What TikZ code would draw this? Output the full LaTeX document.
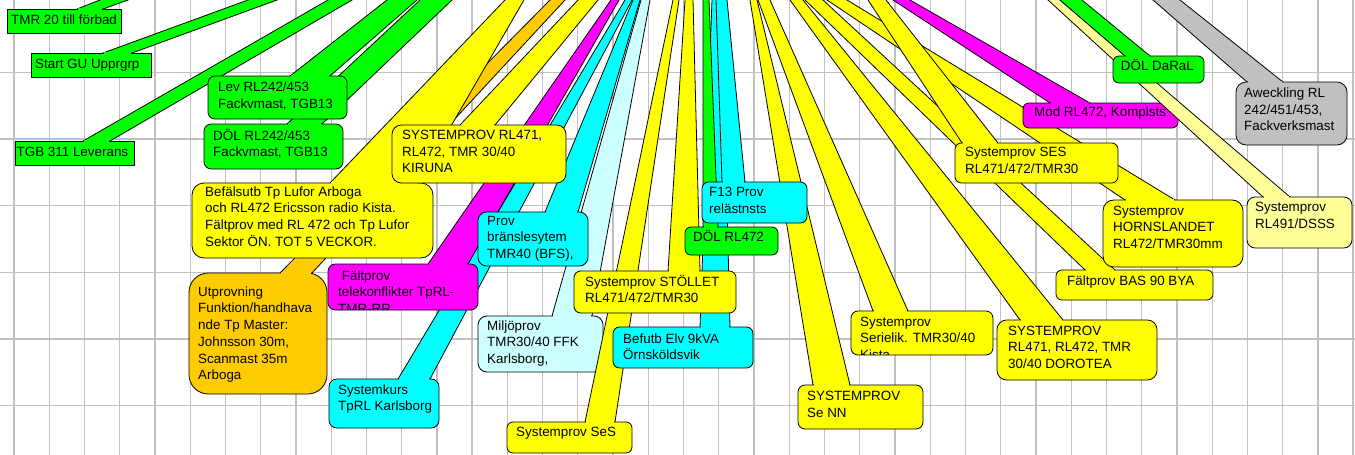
\documentclass[tikz,border=0pt]{standalone}
\usepackage{fontspec}
\setmainfont{Liberation Sans}
\usetikzlibrary{calc}
\definecolor{cgreen}{HTML}{00FF00}
\definecolor{cyellow}{HTML}{FFFF00}
\definecolor{cmagenta}{HTML}{FF00FF}
\definecolor{ccyan}{HTML}{00FFFF}
\definecolor{clcyan}{HTML}{CCFFFF}
\definecolor{corange}{HTML}{FFCC00}
\definecolor{cgray}{HTML}{C0C0C0}
\definecolor{clyellow}{HTML}{FFFF99}
\definecolor{gridgray}{HTML}{C0C0C0}
\tikzset{
  gridline/.style={draw=gridgray, line width=1.3pt},
  shp/.style={draw=black, line width=0.8pt, line join=round},
  sbx/.style={shp},
  txt/.style={anchor=north west, inner sep=0pt, align=left, font=\fontsize{13.4}{16.7}\selectfont},
}
\newcommand\sx{\rule{0pt}{12.5pt}}
% #1 colour, #2 x1, #3 y1, #4 x2, #5 y2, #6 base left, #7 base right, #8 top left, #9 top right
\newcommand\docall[9]{%
  \filldraw[shp,fill=#1] (#6,#3) -- ($(#6,#3)!{(#3+6)/#3}!(#8,0)$) -- ($(#7,#3)!{(#3+6)/#3}!(#9,0)$) -- (#7,#3) -- cycle;
  \filldraw[cbx,fill=#1] (#2,#3) rectangle (#4,#5);
  \fill[#1] (#6+0.9,#3-0.9) rectangle (#7-0.9,#3+0.9);
}
\newcommand\rcall[9]{%
  \pgfmathsetmacro\rr{max(6,0.16*min(#4-#2,#5-#3))}%
  \tikzset{cbx/.style={shp,rounded corners=\rr pt}}%
  \docall{#1}{#2}{#3}{#4}{#5}{#6}{#7}{#8}{#9}}
\newcommand\scall[9]{\tikzset{cbx/.style={sbx}}\docall{#1}{#2}{#3}{#4}{#5}{#6}{#7}{#8}{#9}}
\begin{document}
\begin{tikzpicture}[x=1pt,y=-1pt]
\useasboundingbox (0,0) rectangle (1355,455);
\clip (0,0) rectangle (1355,455);
\fill[white] (0,0) rectangle (1355,455);
% grid
\foreach \i in {0,...,38} \draw[gridline] ({14+35.24*\i},0) -- ({14+35.24*\i},455);
\foreach \y in {72.2,138.9,205.6,272.3,339,405.7} \draw[gridline] (0,\y) -- (1355,\y);

% callouts, back to front
\scall{cgreen}{7}{9}{121}{33}{77}{103}{100}{128}
\node[txt] (g1) at (11,11.5) {\sx TMR 20 till förbad};
\scall{cgreen}{31}{53}{151}{77}{103}{132}{248}{277}
\node[txt] (g2) at (35,55.5) {\sx Start GU Upprgrp};
\scall{cgreen}{15}{141}{134}{165}{83}{110}{328}{352}
\node[txt] (g3) at (16.5,143.5) {\sx TGB 311 Leverans};
\rcall{cgreen}{204}{124}{343}{169}{287}{322}{420}{452}
\node[txt] (g5) at (213,127.5) {\sx DÖL RL242/453\\Fackvmast, TGB13};
\rcall{cgreen}{208}{76}{347}{119}{290}{330}{387}{417}
\node[txt] (g4) at (218,79.2) {\sx Lev RL242/453\\Fackvmast, TGB13};
\rcall{corange}{189}{273}{327}{394}{280}{312}{550}{565}
\node[txt] (o1) at (198,283.5) {\sx Utprovning\\Funktion/handhava\\nde Tp Master:\\Johnsson 30m,\\Scanmast 35m\\Arboga};
\rcall{cyellow}{192}{183}{433}{258}{330}{418}{505}{524}
\node[txt] (y2) at (205,183.5) {\sx Befälsutb Tp Lufor Arboga\\och RL472 Ericsson radio Kista.\\Fältprov med RL 472 och Tp Lufor\\Sektor ÖN. TOT 5 VECKOR.};
\rcall{ccyan}{329}{379}{439}{428}{398}{430}{625}{632}
\node[txt] (c1) at (338,381.5) {\sx Systemkurs\\TpRL Karlsborg};
\rcall{cmagenta}{328}{264}{478}{310}{428}{468}{611}{619}
\begin{scope}
\clip (328,264) rectangle (478,309.3);
\node[txt] (m1) at (338,267.5) {\sx\hspace{3.7pt}Fältprov\\telekonflikter TpRL-\\TMR-RR};
\end{scope}
\rcall{clcyan}{478}{316}{603}{372}{552}{592}{641}{650}
\node[txt] (lc1) at (487,317.5) {\sx Miljöprov\\TMR30/40 FFK\\Karlsborg,};
\rcall{ccyan}{478}{212}{588}{266}{545}{578}{633}{640}
\node[txt] (c2) at (487,212.5) {\sx Prov\\bränslesytem\\TMR40 (BFS),};
\rcall{cyellow}{392}{125}{566}{183}{460}{495}{578}{598}
\node[txt] (y1) at (402,126.8) {\sx SYSTEMPROV RL471,\\RL472, TMR 30/40\\KIRUNA};
\rcall{cyellow}{507}{422}{632}{453}{585}{615}{673}{679}
\node[txt] (y4) at (516,423.5) {\sx Systemprov SeS};
\rcall{ccyan}{613}{327}{753}{368}{700}{730}{712}{722}
\node[txt] (c4) at (623,330.5) {\sx Befutb Elv 9kVA\\Örnsköldsvik};
\rcall{cyellow}{574}{271}{736}{313}{668}{700}{685}{693}
\node[txt] (y3) at (585,273.5) {\sx Systemprov STÖLLET\\RL471/472/TMR30};
\rcall{cgreen}{685}{227}{778}{255}{703}{718}{703}{709}
\node[txt] (g7) at (693,229.2) {\sx DÖL RL472};
\rcall{cyellow}{798}{385}{923}{429}{813}{850}{750}{757}
\node[txt] (y10) at (807,388.2) {\sx SYSTEMPROV\\Se NN};
\rcall{ccyan}{702}{182}{807}{223}{722}{745}{716}{727}
\node[txt] (c3) at (709,184.2) {\sx F13 Prov\\relästnsts};
\rcall{cyellow}{851}{311}{993}{355}{873}{908}{758}{770}
\begin{scope}
\clip (851,311) rectangle (993,354.3);
\node[txt] (y8) at (860,313.5) {\sx Systemprov\\Serielik. TMR30/40\\Kista};
\end{scope}
\rcall{cyellow}{997}{320}{1157}{380}{1020}{1063}{790}{803}
\node[txt] (y9) at (1008,322.5) {\sx SYSTEMPROV\\RL471, RL472, TMR\\30/40 DOROTEA};
\rcall{cyellow}{1056}{270}{1213}{300}{1085}{1115}{805}{823}
\node[txt] (y7) at (1067,272.5) {\sx Fältprov BAS 90 BYA};
\rcall{cyellow}{1103}{200}{1243}{267}{1125}{1175}{827}{847}
\node[txt] (y6) at (1113,202.5) {\sx Systemprov\\HORNSLANDET\\RL472/TMR30mm};
\rcall{cyellow}{955}{143}{1118}{183}{962}{998}{868}{886}
\node[txt] (y5) at (965,144.2) {\sx Systemprov SES\\RL471/472/TMR30};
\rcall{cmagenta}{1023}{103}{1178}{128}{1050}{1090}{893}{910}
\node[txt] (m2) at (1034,104.2) {\sx Mod RL472, Komplsts};
\rcall{clyellow}{1247}{197}{1352}{248}{1263}{1290}{1048}{1060}
\node[txt] (y11) at (1255,199.2) {\sx Systemprov\\RL491/DSSS};
\rcall{cgreen}{1113}{56}{1204}{83}{1125}{1150}{1060}{1082}
\node[txt] (g6) at (1120.7,58.2) {\sx DÖL DaRaL};
\rcall{cgray}{1236}{82}{1347}{145}{1247}{1283}{1153}{1180}
\node[txt] (gr1) at (1244,84.8) {\sx Aweckling RL\\242/451/453,\\Fackverksmast};
\end{tikzpicture}
\end{document}
